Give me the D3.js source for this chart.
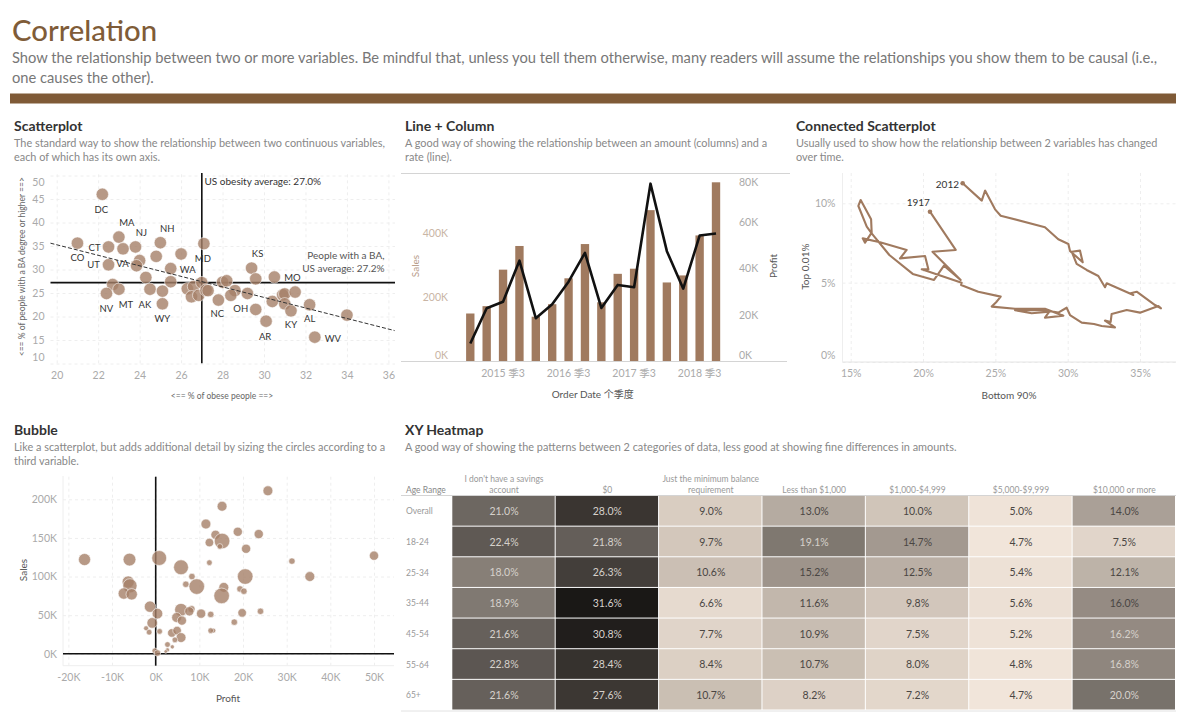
<!DOCTYPE html>
<html>
<head>
<meta charset="utf-8">
<script src="https://cdn.jsdelivr.net/npm/d3@7"></script>
<style>
body { margin: 0; background: #fff; }
text { font-family: "Lato", "Noto Sans CJK SC", sans-serif; }
.grid line { stroke: #eee; stroke-dasharray: 3 3; }
.tick text { fill: #aaa; font-size: 10.5px; }
.axisTitle { fill: #555; font-size: 10px; text-anchor: middle; }
.panelTitle { fill: #333; font-size: 14px; font-weight: 700; }
.panelDesc { fill: #888; font-size: 10.9px; }
</style>
</head>
<body>
<svg id="chart" width="1186" height="720"></svg>
<script>
//scatterplot, one entry per state
var obesity = [22.2,21.0,22.5,23.0,23.2,23.8,25.0,24.8,26.0,27.1,24.0,23.85,22.5,25.5,24.3,25.5,22.7,23.0,22.4,24.5,25.1,25.1,26.3,26.6,26.5,26.85,27.0,27.2,27.8,28.0,28.2,28.6,28.4,29.2,29.4,29.6,30.5,29.6,30.1,30.4,30.9,31.0,31.0,31.3,31.5,32.2,32.45,34.0,27.3];
var baDegree = [46.0,35.6,34.8,36.9,34.4,34.8,35.7,32.8,33.3,35.5,31.9,30.8,31.0,30.2,28.3,27.4,26.8,25.8,24.9,25.8,25.4,22.7,25.9,26.4,24.2,24.5,27.2,25.6,23.5,27.3,27.6,25.5,24.5,24.9,30.3,28.0,28.4,21.5,19.0,23.2,24.6,24.8,22.7,21.2,25.2,22.5,15.6,20.3,25.5];
var stateCodes = ["DC","CO","CT","MA","","NJ","NH","","","MD","","VA","UT","WA","","","","MT","NV","AK","","WY","","","","","","","NC","","","","","","KS","","MO","OH","AR","","","","","KY","","AL","WV","",""];
var scatterXTicks = [20,22,24,26,28,30,32,34,36];
var scatterYTicks = [10,15,20,25,30,35,40,45,50];
var obesityAverage = 27.0;
var baAverage = 27.2;
var trendObesity = [19.7,36.3];
var trendBa = [35.6,17.0];

//line + column
var quarters = ["2015 季1","2015 季2","2015 季3","2015 季4","2016 季1","2016 季2","2016 季3","2016 季4","2017 季1","2017 季2","2017 季3","2017 季4","2018 季1","2018 季2","2018 季3","2018 季4"];
var sales = [150000,173000,287000,361000,140000,179000,260000,367000,185000,274000,290000,473000,247000,269000,394000,560000];
var profit = [7700,22900,25700,43300,18600,24600,34300,46700,23000,32900,31900,76400,47400,31300,54100,55000];
var quarterLabels = ["2015 季3","2016 季3","2017 季3","2018 季3"];
var salesTicks = [0,200000,400000];
var profitTicks = [0,20000,40000,60000,80000];

//connected scatterplot, 1917 to 2012
var bottom90 = [20.48,22.26,20.65,22.60,21.45,20.76,19.29,17.67,16.45,16.11,15.53,15.69,16.41,16.45,15.99,15.83,17.03,18.87,18.41,20.14,20.37,19.91,22.67,22.63,23.82,25.37,25.09,24.75,26.36,28.43,29.70,28.43,28.73,27.51,26.36,28.32,29.35,29.93,30.16,30.97,31.82,32.35,33.27,32.58,32.97,33.04,34.08,35.0,36.27,36.45,36.04,34.77,34.35,34.54,32.70,32.58,32.12,31.31,30.62,30.28,30.85,31.04,30.16,30.05,29.35,28.43,25.37,24.98,24.29,24.06,22.74];
var top001 = [9.47,7.06,6.95,5.17,6.07,5.17,5.55,6.74,8.11,8.53,9.83,10.21,8.99,8.15,7.52,7.79,7.54,7.06,6.53,6.68,5.84,5.84,5.0,4.85,4.43,4.12,3.80,3.49,3.36,3.36,2.92,2.79,3.17,3.07,3.26,3.28,3.11,3.42,2.96,2.48,2.39,2.27,2.18,2.61,2.52,3.03,3.28,3.11,3.53,3.38,3.59,4.43,4.33,4.22,4.96,4.71,5.42,5.80,6.18,6.95,7.02,6.28,7.0,7.44,7.73,8.49,9.22,9.62,10.8,10.17,11.26];
var connectedXTicks = [15,20,25,30,35];
var connectedYTicks = [0,5,10];

//bubble
var bubbleProfit = [25.7,15.2,11.5,18.8,23.6,13.7,12.3,15.2,14.7,20.7,-16.3,-6,0.8,31.2,50,12.3,5.8,8.3,20.5,35.3,-6.3,-5.9,6.9,9.4,15.6,19.3,20.2,-7.3,-5.5,15.1,-1.3,0.4,5.8,8.2,7.7,10.4,12.6,19.8,24,4.8,6,-0.8,18,-2.2,-1.5,0.9,3.7,4.9,5.8,13.2,12.6,4.4,2.7,3.8,2.7,2.3,-0.2,0.4];
var bubbleSales = [211,191,168,158,155,154,144,146,139,136,122,122,124,120,127,118,112,100,100,100,93,88,90,87,86,84,81,78,77,75,61,52,57,58,55,52,51,53,55,47,43,40,41,33,28,29,27,30,21,30,30,18,12,9,5,3,4,1];
var bubbleAmount = [40,40,40,35,35,35,30,100,13,35,60,67,91,17,35,13,91,17,100,40,60,83,17,100,40,17,17,53,53,100,53,46,67,21,35,35,17,30,17,40,35,46,17,10,13,13,30,30,40,10,13,13,13,7,7,5,13,17];
var bubbleXTicks = [-20,-10,0,10,20,30,40,50];
var bubbleYTicks = [0,50,100,150,200];

//heatmap
var ageRanges = ["Overall","18-24","25-34","35-44","45-54","55-64","65+"];
var savingsLevels = ["I don't have a savings|account","$0","Just the minimum balance|requirement","Less than $1,000","$1,000-$4,999","$5,000-$9,999","$10,000 or more"];
var heatOverall = [21.0,28.0,9.0,13.0,10.0,5.0,14.0];
var heat1824 = [22.4,21.8,9.7,19.1,14.7,4.7,7.5];
var heat2534 = [18.0,26.3,10.6,15.2,12.5,5.4,12.1];
var heat3544 = [18.9,31.6,6.6,11.6,9.8,5.6,16.0];
var heat4554 = [21.6,30.8,7.7,10.9,7.5,5.2,16.2];
var heat5564 = [22.8,28.4,8.4,10.7,8.0,4.8,16.8];
var heat65 = [21.6,27.6,10.7,8.2,7.2,4.7,20.0];
var heatRows = [heatOverall,heat1824,heat2534,heat3544,heat4554,heat5564,heat65];

//where the state labels sit relative to their dot
var labelNudge = {DC:[-1,15],MA:[8,-14],NJ:[6,-14],NH:[7,-14],CT:[-14,1],CO:[0,14],UT:[-15,0],VA:[-14,-2],MD:[-1,15],WA:[17,1],KS:[6,-14],MO:[18,1],NV:[0,15],MT:[7,15],AK:[-5,15],WY:[0,15],NC:[-1,14],OH:[-15,-1],AR:[-1,15],KY:[0,14],AL:[0,14],WV:[18,1]};

var svg = d3.select("#chart");
var brown = "#a07a5f";

function kFormat(d) { return d / 1000 + "K"; }

function addText(x, y, str, cls, fill, size) {
	return svg.append("text").attr("x", x).attr("y", y).attr("dy", "0.35em")
		.attr("class", cls || null).style("fill", fill || null).style("font-size", size || null).text(str);
}

function addRotated(x, y, str, fill, size) {
	return svg.append("text").attr("transform", "translate(" + x + "," + y + ") rotate(-90)")
		.attr("dy", "0.35em").attr("class", "axisTitle").style("fill", fill || null).style("font-size", size || null).text(str);
}

//tick labels get pulled inside lo..hi the way tableau does it
function drawY(scale, ticks, fmt, x, gridWidth, pad, lo, hi) {
	var axis = d3.axisLeft(scale).tickValues(ticks).tickFormat(fmt).tickSize(-gridWidth).tickPadding(pad);
	var g = svg.append("g").attr("class", "grid").attr("transform", "translate(" + x + ",0)").call(axis);
	g.select(".domain").remove();
	g.selectAll(".tick text").attr("y", function(d) {
		return Math.max(lo, Math.min(hi, scale(d))) - scale(d);
	});
	return g;
}

function drawX(scale, ticks, fmt, y, gridHeight, pad) {
	var axis = d3.axisBottom(scale).tickValues(ticks).tickFormat(fmt).tickSize(-gridHeight).tickPadding(pad);
	var g = svg.append("g").attr("class", "grid").attr("transform", "translate(0," + y + ")").call(axis);
	g.select(".domain").remove();
	return g;
}

function panelHead(x, y, title, lines) {
	addText(x, y, title, "panelTitle");
	lines.forEach(function(l, i) { addText(x, y + 17 + i * 14.5, l, "panelDesc"); });
}

//page header
addText(12, 31, "Correlation", null, "#7f5c38", "29.3px").style("font-weight", 500);
addText(12, 58, "Show the relationship between two or more variables. Be mindful that, unless you tell them otherwise, many readers will assume the relationships you show them to be causal (i.e.,", null, "#777", "14.7px");
addText(12, 78, "one causes the other).", null, "#777", "14.7px");
svg.append("rect").attr("x", 10).attr("y", 93.5).attr("width", 1166).attr("height", 10).attr("fill", "#7f5a37");

panelHead(14, 126, "Scatterplot", ["The standard way to show the relationship between two continuous variables,", "each of which has its own axis."]);
panelHead(405, 126, "Line + Column", ["A good way of showing the relationship between an amount (columns) and a", "rate (line)."]);
panelHead(796, 126, "Connected Scatterplot", ["Usually used to show how the relationship between 2 variables has changed", "over time."]);
panelHead(14, 430, "Bubble", ["Like a scatterplot, but adds additional detail by sizing the circles according to a", "third variable."]);
panelHead(405, 430, "XY Heatmap", ["A good way of showing the patterns between 2 categories of data, less good at showing fine differences in amounts."]);

// ---- scatterplot
var sx = d3.scaleLinear().domain([20, 36]).range([56.7, 388.4]);
var sy = d3.scaleLinear().domain([45, 15]).range([199, 340]);

drawX(sx, scatterXTicks, d3.format("d"), 363.3, 190, 8);
drawY(sy, scatterYTicks, d3.format("d"), 50.5, 344.5, 6, 181.7, 357.3);

svg.append("line").attr("x1", 50.5).attr("x2", 395).attr("y1", sy(baAverage)).attr("y2", sy(baAverage)).attr("stroke", "#111").attr("stroke-width", 1.6);
svg.append("line").attr("x1", sx(obesityAverage)).attr("x2", sx(obesityAverage)).attr("y1", 173).attr("y2", 363.3).attr("stroke", "#111").attr("stroke-width", 1.6);

svg.append("g").selectAll("circle").data(obesity).enter().append("circle")
	.attr("cx", function(d) { return sx(d); })
	.attr("cy", function(d, i) { return sy(baDegree[i]); })
	.attr("r", 6.2)
	.attr("fill", "#a57f68").attr("fill-opacity", 0.8)
	.attr("stroke", "#fff").attr("stroke-opacity", 0.7).attr("stroke-width", 0.8);

svg.append("line").attr("x1", sx(trendObesity[0])).attr("x2", sx(trendObesity[1]))
	.attr("y1", sy(trendBa[0])).attr("y2", sy(trendBa[1]))
	.attr("stroke", "#333").attr("stroke-width", 1).attr("stroke-dasharray", "4 2");

stateCodes.forEach(function(code, i) {
	if (!code) return;
	var n = labelNudge[code];
	addText(sx(obesity[i]) + n[0], sy(baDegree[i]) + n[1], code, null, "#333", "9.5px").attr("text-anchor", "middle");
});

addText(204.5, 181.7, "US obesity average: 27.0%", null, "#333", "10px");
addText(384.5, 255.7, "People with a BA,", null, "#555", "10px").attr("text-anchor", "end");
addText(384.5, 268.3, "US average: 27.2%", null, "#555", "10px").attr("text-anchor", "end");
addText(222, 396, "<== % of obese people ==>", "axisTitle", "#666", "8.5px");
addRotated(21.7, 266.7, "<== % of people with a BA degree or higher ==>", "#666", "8.5px");

// ---- line + column
var bx = d3.scaleBand().domain(quarters).range([462.1, 724.2]).paddingInner(0.49).paddingOuter(0.245);
var salesY = d3.scaleLinear().domain([0, 400000]).range([361.5, 233.5]);
var profitY = d3.scaleLinear().domain([0, 80000]).range([361.5, 175.3]);

var lcAxis = svg.append("g").attr("class", "grid").attr("transform", "translate(0,361.5)")
	.call(d3.axisBottom(bx).tickValues(quarterLabels).tickSize(0).tickPadding(8));
lcAxis.select(".domain").remove();

var salesAxis = svg.append("g").attr("class", "grid").attr("transform", "translate(448,0)")
	.call(d3.axisLeft(salesY).tickValues(salesTicks).tickFormat(kFormat).tickSize(0).tickPadding(0));
salesAxis.select(".domain").remove();
salesAxis.selectAll(".tick text").style("fill", "#c9b5a5").attr("y", function(d) { return Math.min(354.7, salesY(d)) - salesY(d); });

var profitAxis = svg.append("g").attr("class", "grid").attr("transform", "translate(739,0)")
	.call(d3.axisRight(profitY).tickValues(profitTicks).tickFormat(kFormat).tickSize(0).tickPadding(0));
profitAxis.select(".domain").remove();
profitAxis.selectAll(".tick text").attr("y", function(d) { return Math.max(181.7, Math.min(354.7, profitY(d))) - profitY(d); });

svg.append("g").selectAll("rect").data(sales).enter().append("rect")
	.attr("x", function(d, i) { return bx(quarters[i]); })
	.attr("width", bx.bandwidth())
	.attr("y", function(d) { return salesY(d); })
	.attr("height", function(d) { return salesY(0) - salesY(d); })
	.attr("fill", brown);

svg.append("line").attr("x1", 401).attr("x2", 790).attr("y1", 173.5).attr("y2", 173.5).attr("stroke", "#d4d4d4");
svg.append("line").attr("x1", 401).attr("x2", 787).attr("y1", 361.5).attr("y2", 361.5).attr("stroke", "#d4d4d4");

svg.append("path").datum(profit)
	.attr("fill", "none").attr("stroke", "#111").attr("stroke-width", 2.6).attr("stroke-linejoin", "round")
	.attr("d", d3.line()
		.x(function(d, i) { return bx(quarters[i]) + bx.bandwidth() / 2; })
		.y(function(d) { return profitY(d); }));

addRotated(415, 266, "Sales", "#b79c88");
addRotated(773.7, 266, "Profit");
addText(592.7, 394.7, "Order Date 个季度", "axisTitle");

// ---- connected scatterplot
var cx = d3.scaleLinear().domain([15, 35]).range([850.7, 1140]);
var cy = d3.scaleLinear().domain([0, 10]).range([362, 203.3]);

drawX(cx, connectedXTicks, function(d) { return d + "%"; }, 362, 189, 8);
drawY(cy, connectedYTicks, function(d) { return d + "%"; }, 842.5, 334, 7, 181, 355);
svg.append("line").attr("x1", 842.5).attr("x2", 1176).attr("y1", 362).attr("y2", 362).attr("stroke", "#e4e4e4");
svg.append("line").attr("x1", 842.5).attr("x2", 842.5).attr("y1", 173).attr("y2", 362).attr("stroke", "#eee");

svg.append("path").datum(bottom90)
	.attr("fill", "none").attr("stroke", brown).attr("stroke-width", 2.1).attr("stroke-linejoin", "round")
	.attr("d", d3.line().x(function(d) { return cx(d); }).y(function(d, i) { return cy(top001[i]); }));
svg.append("circle").attr("cx", cx(bottom90[0])).attr("cy", cy(top001[0])).attr("r", 2.3).attr("fill", brown);
svg.append("circle").attr("cx", cx(bottom90[bottom90.length - 1])).attr("cy", cy(top001[top001.length - 1])).attr("r", 2.3).attr("fill", brown);

addText(918.3, 202.7, "1917", null, "#333", "10px").attr("text-anchor", "middle");
addText(959, 184, "2012", null, "#333", "10px").attr("text-anchor", "end");
addText(1009, 395.3, "Bottom 90%", "axisTitle");
addRotated(805.7, 266.7, "Top 0.01%");

// ---- bubble
var px = d3.scaleLinear().domain([0, 50]).range([155.7, 374]);
var py = d3.scaleLinear().domain([0, 200]).range([653.8, 499.3]);
var pr = d3.scaleSqrt().domain([0, 100]).range([0, 7.8]);

drawX(px, bubbleXTicks, function(d) { return d + "K"; }, 665.7, 189, 8);
drawY(py, bubbleYTicks, function(d) { return d + "K"; }, 63, 331, 6, 470, 660);
svg.append("line").attr("x1", 63).attr("x2", 394).attr("y1", 665.7).attr("y2", 665.7).attr("stroke", "#eee");
svg.append("line").attr("x1", 63).attr("x2", 63).attr("y1", 476).attr("y2", 665.7).attr("stroke", "#eee");

svg.append("line").attr("x1", 63).attr("x2", 394).attr("y1", py(0)).attr("y2", py(0)).attr("stroke", "#111").attr("stroke-width", 1.6);
svg.append("line").attr("x1", px(0)).attr("x2", px(0)).attr("y1", 476.7).attr("y2", 665.7).attr("stroke", "#111").attr("stroke-width", 1.6);

svg.append("g").selectAll("circle").data(bubbleProfit).enter().append("circle")
	.attr("cx", function(d) { return px(d); })
	.attr("cy", function(d, i) { return py(bubbleSales[i]); })
	.attr("r", function(d, i) { return pr(bubbleAmount[i]); })
	.attr("fill", "#a57f68").attr("fill-opacity", 0.8)
	.attr("stroke", "#fff").attr("stroke-opacity", 0.7).attr("stroke-width", 0.8);

addText(228, 698.7, "Profit", "axisTitle");
addRotated(23, 570, "Sales");

// ---- heatmap
var hx = d3.scaleBand().domain(savingsLevels).range([452.3, 1176]);
var hy = d3.scaleBand().domain(ageRanges).range([496, 710.5]);
var heatColour = d3.scaleLinear()
	.domain([4.7, 9, 13, 16, 20, 22, 26, 28, 31.6])
	.range(["#f1e5da", "#d9cdc1", "#b5aba1", "#958b83", "#78726b", "#625c57", "#45403c", "#3a3531", "#1a1816"]);

heatRows.forEach(function(row, r) {
	var g = svg.append("g");
	g.selectAll("rect").data(row).enter().append("rect")
		.attr("x", function(d, c) { return hx(savingsLevels[c]); })
		.attr("y", hy(ageRanges[r]))
		.attr("width", hx.bandwidth() - 1)
		.attr("height", hy.bandwidth() - 1)
		.attr("fill", function(d) { return heatColour(d); });
	g.selectAll("text").data(row).enter().append("text")
		.attr("x", function(d, c) { return hx(savingsLevels[c]) + hx.bandwidth() / 2; })
		.attr("y", hy(ageRanges[r]) + hy.bandwidth() / 2)
		.attr("dy", "0.35em").attr("text-anchor", "middle")
		.style("font-size", "10.5px")
		.style("fill", function(d) { return d > 16.1 ? "#d6d1cb" : "#4a4643"; })
		.text(function(d) { return d.toFixed(1) + "%"; });
	addText(406, hy(ageRanges[r]) + hy.bandwidth() / 2, ageRanges[r], null, "#999", "8.5px");
});

addText(406, 490, "Age Range", null, "#888", "8.5px");
savingsLevels.forEach(function(level) {
	var parts = level.split("|");
	parts.forEach(function(p, i) {
		addText(hx(level) + hx.bandwidth() / 2, 490 - (parts.length - 1 - i) * 11, p, null, "#999", "8.5px").attr("text-anchor", "middle");
	});
});
svg.append("line").attr("x1", 401).attr("x2", 1176).attr("y1", 495.5).attr("y2", 495.5).attr("stroke", "#d4d4d4");
svg.append("line").attr("x1", 401).attr("x2", 1176).attr("y1", 711).attr("y2", 711).attr("stroke", "#e2e2e2");
</script>
</body>
</html>
